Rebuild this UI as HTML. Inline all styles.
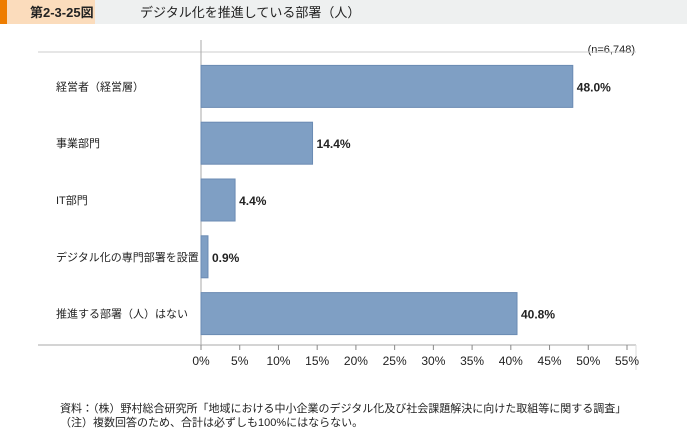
<!DOCTYPE html>
<html><head><meta charset="utf-8"><style>
body{margin:0;background:#fff;width:687px;height:428px;overflow:hidden;font-family:"Liberation Sans","Noto Sans CJK JP",sans-serif;}
</style></head><body>
<svg width="687" height="428" style="position:absolute;left:0;top:0;font-family:'Liberation Sans','Noto Sans CJK JP',sans-serif">
<rect x="0" y="0" width="687" height="24" fill="#eef0f0"/>
<rect x="0" y="0" width="95" height="24" fill="#fbdcbc"/>
<rect x="0" y="0" width="7" height="24" fill="#ee7d00"/>
<text x="30" y="17" font-size="13" font-weight="bold" fill="#222">第2-3-25図</text>
<text x="140" y="17" font-size="13" fill="#222">デジタル化を推進している部署（人）</text>
<text x="635" y="53" font-size="11" fill="#222" text-anchor="end">(n=6,748)</text>
<g id="plot"></g>
<text x="60" y="412" font-size="11" fill="#222">資料：（株）野村総合研究所「地域における中小企業のデジタル化及び社会課題解決に向けた取組等に関する調査」</text>
<text x="60" y="426" font-size="11" fill="#222">（注）複数回答のため、合計は必ずしも100%にはならない。</text>
</svg>
<script>
const categories=["経営者（経営層）","事業部門","IT部門","デジタル化の専門部署を設置","推進する部署（人）はない"];
const values=[48.0,14.4,4.4,0.9,40.8];
const tickValues=[0,5,10,15,20,25,30,35,40,45,50,55];
const tickLabels=["0%","5%","10%","15%","20%","25%","30%","35%","40%","45%","50%","55%"];
const NS="http://www.w3.org/2000/svg";
const plotG=document.getElementById("plot");
const x0=201,xMax=55,x1=627,plotTop=58,rowH=56.8;
const sx=v=>x0+(x1-x0)*v/xMax;
function mk(t,a){const e=document.createElementNS(NS,t);for(const k in a)e.setAttribute(k,a[k]);plotG.appendChild(e);return e;}
const plotBottom=plotTop+rowH*categories.length;
let l=mk("line",{x1:38,y1:plotTop-6,x2:636,y2:plotTop-6,stroke:"#ccc"});


l=mk("line",{x1:x0,y1:40,x2:x0,y2:plotBottom+5,stroke:"#aaa"});


l=mk("line",{x1:38,y1:plotBottom+3,x2:636,y2:plotBottom+3,stroke:"#aaa"});


l=mk("line",{x1:636,y1:plotBottom+3,x2:636,y2:370,stroke:"#ddd"});


tickValues.forEach((v,i)=>{
  const t=mk("line",{x1:sx(v),y1:plotBottom+3,x2:sx(v),y2:plotBottom+8,stroke:"#888"});
  
  
  const tx=mk("text",{x:sx(v),y:plotBottom+23,"font-size":12,fill:"#222","text-anchor":"middle"});
  tx.textContent=tickLabels[i];
  
  
});
categories.forEach((c,i)=>{
  const cy=plotTop+rowH*i+rowH/2;
  const lb=mk("text",{x:56,y:cy+4,"font-size":11,fill:"#222"});
  lb.textContent=c;
  
  
  const b=mk("rect",{x:x0,y:cy-21,width:sx(values[i])-x0,height:42,fill:"#7f9fc4",stroke:"#6b8bb3","stroke-width":1});
  
  
  const vl=mk("text",{x:sx(values[i])+4,y:cy+5,"font-size":12,"font-weight":"bold",fill:"#222"});
  vl.textContent=values[i].toFixed(1)+"%";
  
  
});
</script>
</body></html>
